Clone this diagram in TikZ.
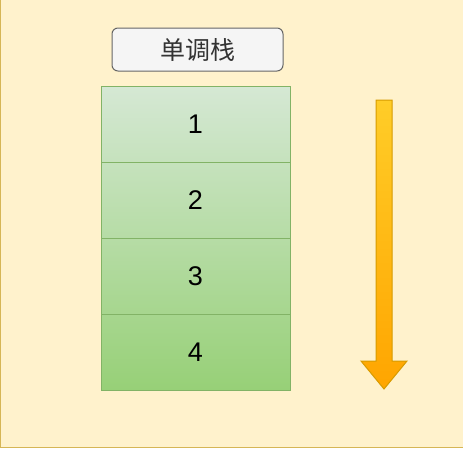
\documentclass[tikz,border=0pt]{standalone}
\usepackage{fontspec}
\setmainfont{Liberation Sans}
\newfontfamily\cjk{Noto Sans CJK SC}
\usetikzlibrary{positioning}

\begin{document}
\begin{tikzpicture}[
                    x=1pt, y=-1pt,
                    cell/.style = {
                        draw=stackLine, line width=1pt, minimum width=189pt, minimum height=76pt,
                        inner sep=0pt, outer sep=0pt, font=\fontsize{27}{32}\selectfont
                    },
                    title/.style = {
                        draw=titleLine, fill=titleFill, rounded corners=6pt, line width=1pt,
                        minimum width=171pt, minimum height=43pt, inner sep=0pt,
                        text=titleText, font=\cjk\fontsize{25}{30}\selectfont
                    }
                ]
                    % Colors
                    \definecolor{bgFill}{HTML}{FFF2CC}
                    \definecolor{bgLine}{HTML}{D6B656}
                    \definecolor{titleFill}{HTML}{F5F5F5}
                    \definecolor{titleLine}{HTML}{666666}
                    \definecolor{titleText}{HTML}{333333}
                    \definecolor{stackTop}{HTML}{D5E8D4}
                    \definecolor{stackBottom}{HTML}{97D077}
                    \definecolor{stackLine}{HTML}{82B366}
                    \definecolor{arrowTop}{HTML}{FFCD28}
                    \definecolor{arrowBottom}{HTML}{FFA500}
                    \definecolor{arrowLine}{HTML}{D79B00}

                    % Background (cut off on top and right)
                    \useasboundingbox (0,0) rectangle (463,450);
                    \begin{scope}
                        \clip (0,0) rectangle (463,450);
                        \draw[fill=bgFill, draw=bgLine, line width=1.5pt] (0.5,-20) rectangle (490,447.5);
                    \end{scope}

                    % Title
                    \node[title] (T) at (197.5,49.5) {单调栈};

                    % Stack
                    \shade[top color=stackTop, bottom color=stackBottom] (101,86) rectangle (290,390);
                    \node[cell] (S1) at (195.5,124) {1};
                    \node[cell, below=0pt of S1] (S2) {2};
                    \node[cell, below=0pt of S2] (S3) {3};
                    \node[cell, below=0pt of S3] (S4) {4};

                    % Arrow
                    \shade[top color=arrowTop, bottom color=arrowBottom, draw=arrowLine, line width=1pt, line join=miter]
                        (376,100) -- (392,100) -- (392,361) -- (407,361) -- (384,389)
                        -- (361,361) -- (376,361) -- cycle;
                \end{tikzpicture}
\end{document}
